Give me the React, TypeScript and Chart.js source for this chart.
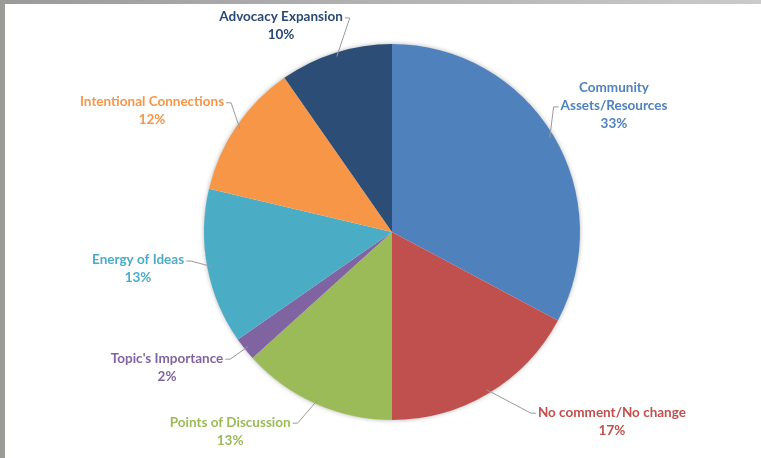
import React, { useEffect, useRef } from "react";
import { Chart, registerables } from "chart.js";

Chart.register(...registerables);

const categories = [
  "Community\nAssets/Resources",
  "No comment/No change",
  "Points of Discussion",
  "Topic's Importance",
  "Energy of Ideas",
  "Intentional Connections",
  "Advocacy Expansion",
];
const values = [32.8, 17.2, 13.3, 2.0, 13.4, 11.6, 9.7];
const sliceColors = ["#4F81BD", "#C0504D", "#9BBB59", "#8064A2", "#4BACC6", "#F79646", "#2C4D75"];
const textColors = ["#4F81BD", "#C0504D", "#9BBB59", "#8064A2", "#4BACC6", "#F79646", "#2A4A73"];
// label placement: [angle clockwise from top (deg), distance as multiple of radius]
const labelAngles = [60.4, 130.7, 219.1, 239.0, 261.7, 296.8, 331.7];
const labelDistances = [1.358, 1.543, 1.365, 1.396, 1.365, 1.43, 1.245];

const FONT = "bold 13.5px Lato";
const LINE_H = 18;

const framePlugin = {
  id: "frame",
  beforeDraw(chart: any) {
    const { ctx, width, height } = chart;
    ctx.save();
    ctx.fillStyle = "#ffffff";
    ctx.fillRect(0, 0, width, height);
    const g = ctx.createLinearGradient(0, 0, width, 0);
    g.addColorStop(0, "#9a9a9a");
    g.addColorStop(1, "#cacaca");
    ctx.fillStyle = g;
    ctx.fillRect(0, 0, width, 4);
    ctx.fillStyle = "#9b9b99";
    ctx.fillRect(0, 0, 5, height);
    ctx.restore();
  },
};

const shadowPlugin = {
  id: "pieShadow",
  beforeDatasetsDraw(chart: any) {
    const meta = chart.getDatasetMeta(0);
    const arc = meta.data[0];
    if (!arc) return;
    const { x, y, outerRadius } = arc.getProps(["x", "y", "outerRadius"], true);
    const ctx = chart.ctx;
    ctx.save();
    ctx.shadowColor = "rgba(0,0,0,0.35)";
    ctx.shadowBlur = 5;
    ctx.fillStyle = "#ffffff";
    ctx.beginPath();
    ctx.arc(x, y, outerRadius - 0.5, 0, Math.PI * 2);
    ctx.fill();
    ctx.restore();
  },
};

const labelPlugin = {
  id: "pieLabels",
  afterDatasetsDraw(chart: any) {
    const ctx = chart.ctx;
    const meta = chart.getDatasetMeta(0);
    const total = values.reduce((a, b) => a + b, 0);
    ctx.save();
    ctx.font = FONT;
    ctx.textAlign = "center";
    ctx.textBaseline = "middle";
    meta.data.forEach((arc: any, i: number) => {
      const { x, y, startAngle, endAngle, outerRadius } = arc.getProps(
        ["x", "y", "startAngle", "endAngle", "outerRadius"],
        true
      );
      const mid = (startAngle + endAngle) / 2;
      const a = (labelAngles[i] * Math.PI) / 180;
      const d = labelDistances[i] * outerRadius;
      const cx = x + Math.sin(a) * d;
      const cy = y - Math.cos(a) * d;
      const lines = [...categories[i].split("\n"), Math.round((values[i] / total) * 100) + "%"];
      const top = cy - ((lines.length - 1) * LINE_H) / 2;
      const refLine = lines.length - 2;
      const refW = ctx.measureText(lines[refLine]).width;
      const ly = top + refLine * LINE_H + 1;
      const right = cx > x;
      const tx = right ? cx - refW / 2 - 2 : cx + refW / 2 + 2;
      const hx = right ? tx - 5 : tx + 5;
      const ex = x + Math.cos(mid) * (outerRadius - 4);
      const ey = y + Math.sin(mid) * (outerRadius - 4);
      ctx.strokeStyle = "#9a9a9a";
      ctx.lineWidth = 1;
      ctx.beginPath();
      ctx.moveTo(tx, ly);
      ctx.lineTo(hx, ly);
      ctx.lineTo(ex, ey);
      ctx.stroke();
      ctx.fillStyle = textColors[i];
      lines.forEach((t, k) => ctx.fillText(t, cx, top + k * LINE_H));
    });
    ctx.restore();
  },
};

export default function App() {
  const ref = useRef<HTMLCanvasElement>(null);
  useEffect(() => {
    document.body.style.margin = "0";
    const chart = new Chart(ref.current!, {
      type: "pie",
      data: {
        labels: categories.map((c) => c.replace("\n", " ")),
        datasets: [
          {
            data: values,
            backgroundColor: sliceColors,
            borderWidth: 0,
          },
        ],
      },
      options: {
        animation: false,
        responsive: false,
        layout: { padding: { left: 204, right: 181, top: 44, bottom: 38 } },
        plugins: { legend: { display: false }, tooltip: { enabled: false } },
      },
      plugins: [framePlugin, shadowPlugin, labelPlugin],
    });
    return () => chart.destroy();
  }, []);
  return (
    <div style={{ width: 761, height: 458 }}>
      <canvas ref={ref} width={761} height={458} style={{ display: "block" }} />
    </div>
  );
}
